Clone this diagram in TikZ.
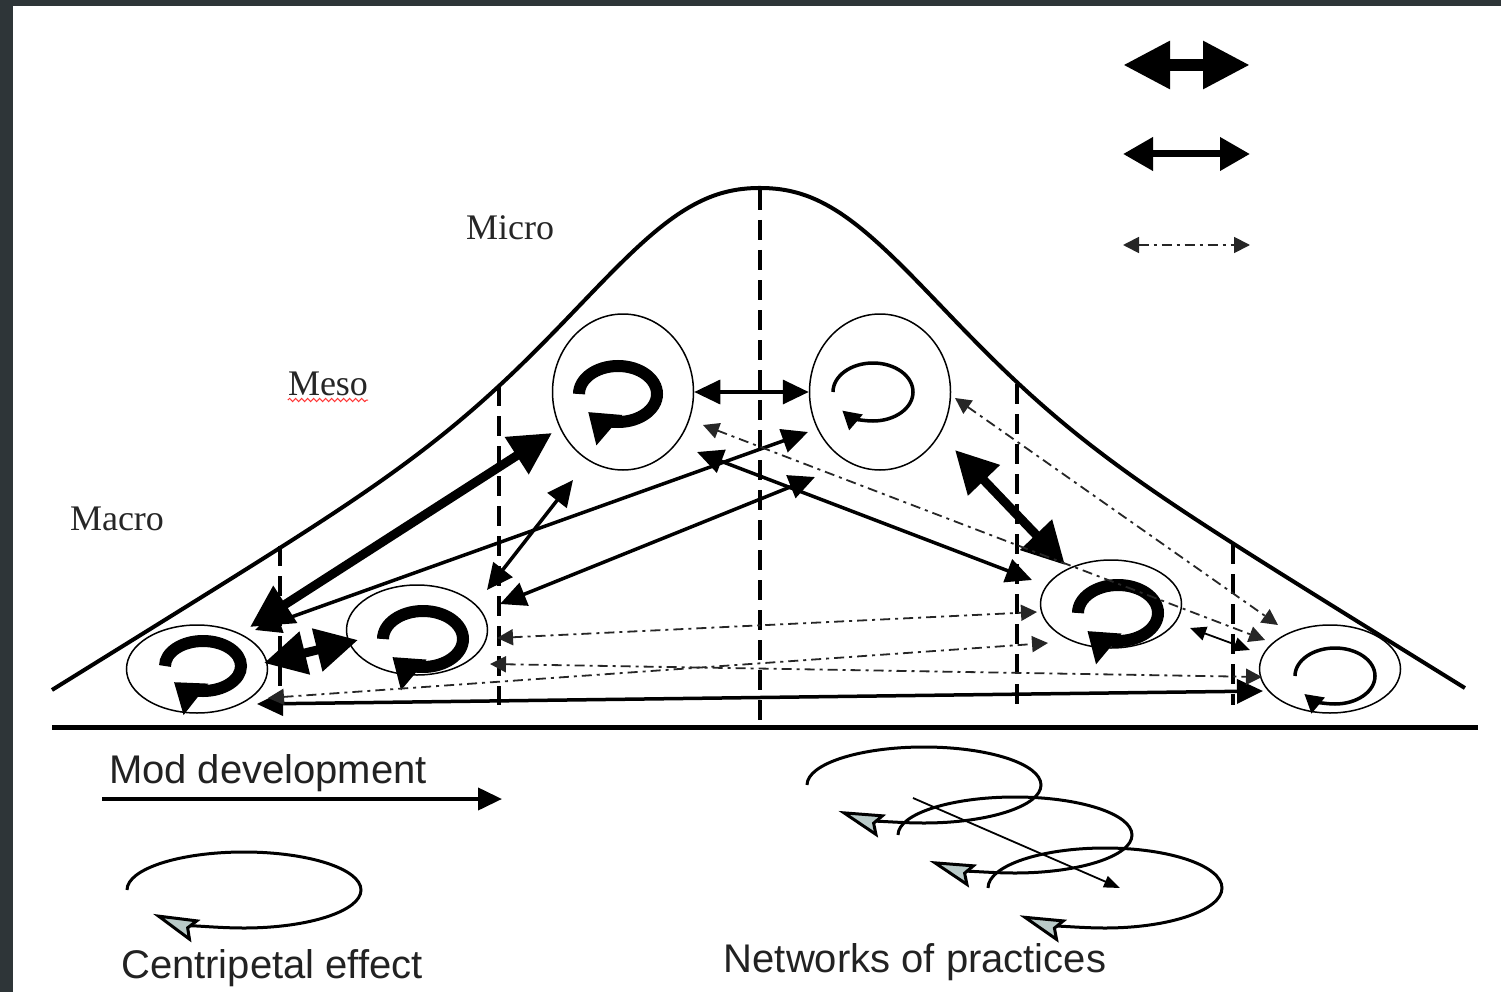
\documentclass[tikz,border=0pt]{standalone}
\usepackage{fontspec}
\setmainfont{Liberation Serif}
\newfontfamily\legendfont{Liberation Sans}
\usepackage{tikz}
\usetikzlibrary{shapes.geometric,
                calc, %for offsets from the cells
                decorations.pathmorphing, %for the squiggle
                arrows.meta,
                positioning}
\definecolor{frame}{RGB}{46,53,56}
\definecolor{tipfill}{RGB}{185,202,200}
\definecolor{ink}{RGB}{34,34,34}

\begin{document}
\begin{tikzpicture}[x=1pt, y=-1pt,
                    cell/.style={draw, ellipse, line width=1.5pt, inner sep=0, minimum width=141pt, minimum height=#1},
                    lvl/.style={font=\fontsize{36}{40}\selectfont, text=black!85, inner sep=0, anchor=base},
                    lgd/.style={font=\legendfont\fontsize{40}{46}\selectfont, text=ink, inner sep=0, anchor=base},
                    strong/.style={{Triangle[length=42pt,width=42pt]}-{Triangle[length=42pt,width=42pt]}, line width=9pt},
                    medium/.style={{Triangle[length=26pt,width=24pt]}-{Triangle[length=26pt,width=24pt]}, line width=3.5pt},
                    weak/.style={{Triangle[length=16pt,width=16pt]}-{Triangle[length=16pt,width=16pt]}, line width=1.8pt, black!85, dash pattern=on 10pt off 5pt on 3pt off 5pt},
                    fine/.style={{Triangle[length=16pt,width=14pt]}-{Triangle[length=16pt,width=14pt]}, line width=1.8pt},
                    boldloop/.style={-{Triangle[length=28pt,width=38pt]}, line width=12pt},
                    thinloop/.style={-{Triangle[length=18pt,width=20pt]}, line width=3.5pt},
                    centri/.style={-{Stealth[length=46pt,width=24pt,inset=7pt,fill=tipfill]}, line width=3pt},
                    levelline/.style={line width=4pt, dash pattern=on 20pt off 10pt}
                    ]
    % frame and page
    \fill[frame] (0,0) rectangle (1501,992);
    \fill[white] (13,6) rectangle (1501,992);
    \useasboundingbox (0,0) rectangle (1501,992);

    % bell curve, base line and level borders
    \draw[line width=4pt] plot[domain=-7.08:7.05, samples=141, smooth]
        ({760+100*\x}, {188+62*(abs(\x)-tanh(abs(\x)))+125*(1-exp(-\x*\x/4.5))});
    \draw[line width=5pt] (52,727) -- (1478,727);
    \foreach \x/\y in {280/546, 499/386, 1017/384, 1233/544}
        \draw[levelline] (\x,\y) -- (\x,705);
    \draw[levelline] (760,190) -- (760,725);

    % level labels
    \node[lvl] (micro) at (510,240) {Micro};
    \node[lvl] (meso)  at (328,395) {Meso};
    \node[lvl] (macro) at (117,530) {Macro};
    \draw[red!80, line width=1pt, decorate, decoration={snake, amplitude=1.6pt, segment length=6pt}]
        ($(meso.base west)+(0,5)$) -- ($(meso.base east)+(0,5)$);

    % practice cells
    \node[cell=156pt] at (623,392)  (Mi1){};
    \node[cell=156pt] at (880,392)  (Mi2){};
    \node[cell=90pt]  at (417,630)  (Me1){};
    \node[cell=88pt]  at (1111,604) (Me2){};
    \node[cell=88pt]  at (197,669)  (Ma1){};
    \node[cell=88pt]  at (1330,669) (Ma2){};

    % centripetal loops inside the cells
    \foreach \n/\dx/\dy/\rx/\ry in {Mi1/-5/2/39/28, Me1/6/9/40/28, Ma1/6/-3/38/25, Me2/7/9/40/28}
        \draw[boldloop] ($(\n)+(\dx-\rx,\dy)$) arc[start angle=180, end angle=500, x radius=\rx, y radius=\ry];
    \foreach \n/\dx/\dy/\rx/\ry in {Mi2/-7/0/40/29, Ma2/5/7/40/28}
        \draw[thinloop] ($(\n)+(\dx-\rx,\dy)$) arc[start angle=180, end angle=500, x radius=\rx, y radius=\ry];

    % strong ties
    \draw[strong] ($(Ma1)+(53,-42)$) -- ($(Mi1)+(-71,41)$);
    \draw[strong] ($(Ma1)+(67,-6)$)  -- ($(Me1)+(-59,10)$);
    \draw[strong] ($(Mi2)+(75,58)$)  -- ($(Me2)+(-46,-39)$);

    % medium ties
    \draw[medium] (Mi1.east) -- (Mi2.west);
    \draw[medium] ($(Ma1)+(58,-39)$) -- ($(Mi2)+(-72,40)$);
    \draw[medium] ($(Me1)+(70,-40)$) -- ($(Mi1)+(-50,88)$);
    \draw[medium] ($(Me1)+(83,-26)$) -- ($(Mi2)+(-65,85)$);
    \draw[medium] ($(Mi1)+(74,60)$)  -- ($(Me2)+(-79,-24)$);
    \draw[medium] ($(Ma1)+(60,35)$)  -- ($(Ma2)+(-67,22)$);

    % weak ties
    \draw[weak] ($(Mi1)+(80,33)$) -- ($(Ma2)+(-65,-29)$);
    \draw[weak] ($(Mi2)+(75,6)$)  -- ($(Ma2)+(-52,-44)$);
    \draw[weak] ($(Me1)+(80,8)$)  -- ($(Me2)+(-74,8)$);
    \draw[weak] ($(Me1)+(73,34)$) -- ($(Ma2)+(-68,8)$);
    \draw[weak] ($(Ma1)+(71,29)$) -- ($(Me2)+(-63,39)$);
    \draw[fine] ($(Me2)+(79,24)$) -- ($(Ma2)+(-80,-19)$);

    % key of the ties
    \coordinate (k1a) at (1123,65);  \coordinate (k1b) at (1250,65);
    \coordinate (k2a) at (1123,154); \coordinate (k2b) at (1250,154);
    \coordinate (k3a) at (1123,245); \coordinate (k3b) at (1250,245);
    \draw[{Triangle[length=47pt,width=45pt]}-{Triangle[length=47pt,width=45pt]}, line width=12pt] (k1a) -- (k1b);
    \draw[{Triangle[length=30pt,width=32pt]}-{Triangle[length=30pt,width=32pt]}, line width=7pt] (k2a) -- (k2b);
    \draw[weak] (k3a) -- (k3b);

    % key at the bottom
    \node[lgd] (moddev) at (268,783) {Mod development};
    \coordinate (md0) at (102,799);
    \coordinate (md1) at (502,799);
    \draw[line width=4pt, -{Triangle[length=24pt,width=22pt]}] (md0) -- (md1);

    \coordinate (cp0) at (127,890);
    \draw[centri] (cp0) arc[start angle=180, end angle=501, x radius=117, y radius=38];
    \node[lgd] (centri) at (272,978) {Centripetal effect};

    \coordinate (np1) at (807,785);
    \coordinate (np2) at (898,835);
    \coordinate (np3) at (988,888);
    \draw[centri] (np1) arc[start angle=180, end angle=497, x radius=117, y radius=38];
    \draw[centri] (np2) arc[start angle=180, end angle=497, x radius=117, y radius=38];
    \draw[centri] (np3) arc[start angle=180, end angle=497, x radius=117, y radius=40];
    \coordinate (nd0) at (913,798);
    \coordinate (nd1) at (1120,888);
    \draw[line width=1.8pt, -{Triangle[length=16pt,width=12pt]}] (nd0) -- (nd1);
    \node[lgd] (netw) at (915,972) {Networks of practices};

\end{tikzpicture}
\end{document}
